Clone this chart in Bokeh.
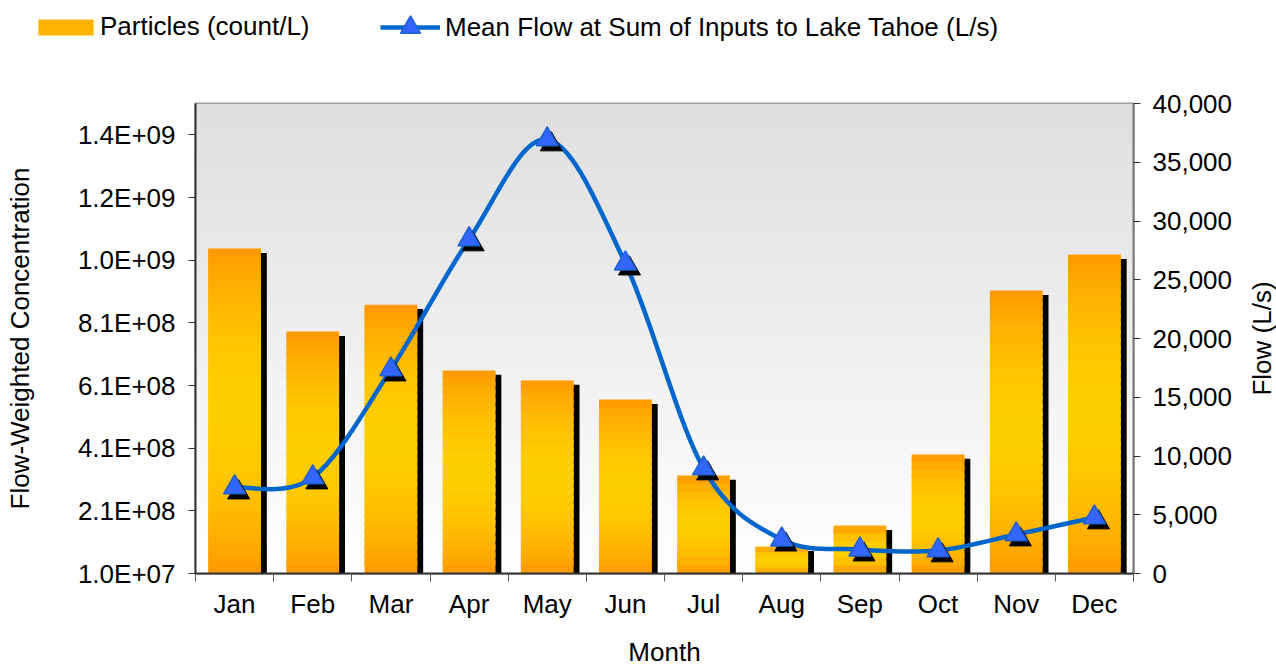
import math
from bokeh.plotting import figure
from bokeh.layouts import row
from bokeh.models import (Range1d, LinearAxis, FixedTicker, NumeralTickFormatter,
                          Legend, LegendItem)
from bokeh.core.properties import value
from bokeh.embed import file_html
from bokeh.resources import INLINE

# ---------------- data ----------------
months = ["Jan", "Feb", "Mar", "Apr", "May", "Jun",
          "Jul", "Aug", "Sep", "Oct", "Nov", "Dec"]
particles = [1.047e9, 7.82e8, 8.68e8, 6.58e8, 6.26e8, 5.65e8,
             3.23e8, 9.6e7, 1.63e8, 3.90e8, 9.13e8, 1.028e9]
flow = [7320, 8170, 17360, 28430, 36940, 26380,
        8940, 2890, 2040, 1960, 3320, 4770]
conc_ticks = [10000000, 210000000, 410000000, 610000000,
              810000000, 1010000000, 1210000000, 1410000000]
conc_tick_labels = ["1.0E+07", "2.1E+08", "4.1E+08", "6.1E+08",
                    "8.1E+08", "1.0E+09", "1.2E+09", "1.4E+09"]
flow_ticks = [0, 5000, 10000, 15000, 20000, 25000, 30000, 35000, 40000]
right_title = "Flow (L/s)"

FONT = "Liberation Sans"
FS = "26px"
x = list(range(1, len(months) + 1))
base = 1.0e7
ytop = 1.51e9

W = 1276
LEG_H = 68
MAIN_H = 601
LAB_W = 30

# ================= legend strip =================
lf = figure(width=W, height=LEG_H, output_backend="svg", toolbar_location=None,
            x_range=Range1d(0, 1), y_range=Range1d(0, 1),
            x_axis_location=None, y_axis_location=None,
            min_border=0, outline_line_color=None,
            background_fill_color="white", border_fill_color="white")
lf.grid.visible = False
# legend-only renderers: their single point lies outside the strip's ranges
r_bar_leg = lf.vbar(x=[5], top=[5], bottom=[4], width=0.5,
                    fill_color="#FFB400", line_color=None)
r_line_leg = lf.line(x=[5, 6], y=[5, 5], line_color="#0066CC", line_width=4.5)
r_tri_leg = lf.scatter(x=[5], y=[5], marker="triangle", size=22,
                       fill_color="#3366FF", line_color="#1F5FD0", line_width=1.5)
leg1 = Legend(items=[LegendItem(label="Particles (count/L)", renderers=[r_bar_leg])],
              location=(31, 26), orientation="horizontal",
              glyph_width=69, glyph_height=20, label_standoff=0,
              padding=0, margin=0, spacing=0,
              border_line_color=None, background_fill_alpha=0,
              label_text_font=FONT, label_text_font_size=FS,
              label_text_color="black")
leg2 = Legend(items=[LegendItem(label="Mean Flow at Sum of Inputs to Lake Tahoe (L/s)",
                                renderers=[r_line_leg, r_tri_leg])],
              location=(380, 16), orientation="horizontal",
              glyph_width=60, glyph_height=50, label_standoff=5,
              padding=0, margin=0, spacing=0,
              border_line_color=None, background_fill_alpha=0,
              label_text_font=FONT, label_text_font_size=FS,
              label_text_color="black")
lf.add_layout(leg1)
lf.add_layout(leg2)

# ================= main chart =================
p = figure(width=W - LAB_W, height=MAIN_H, output_backend="svg", toolbar_location=None,
           x_range=Range1d(0.5, 12.5), y_range=Range1d(base, ytop),
           min_border_left=195, min_border_right=143 - LAB_W,
           min_border_top=35, min_border_bottom=96,
           background_fill_color="white", border_fill_color="white",
           outline_line_color="#8c8c8c", outline_line_width=2)
p.extra_y_ranges = {"flow": Range1d(0, 40000)}
p.grid.visible = False

# background gradient (light grey top -> white bottom)
NB = 60
bl, bb, bt, br, bc = [], [], [], [], []
for k in range(NB):
    t = (k + 0.5) / NB
    g = int(round(255 - 33 * t))
    bl.append(0.5)
    br.append(12.5)
    bb.append(base + (ytop - base) * k / NB)
    bt.append(min(ytop, base + (ytop - base) * (k + 1.6) / NB))
    bc.append("#%02x%02x%02x" % (g, g, g))
p.quad(left=bl, right=br, bottom=bb, top=bt, fill_color=bc, line_color=None)

# bar shadows
BW = 0.675
p.vbar(x=[xi + 0.075 for xi in x], width=BW, bottom=base,
       top=[v - 1.4e7 for v in particles], fill_color="black", line_color=None)

# gradient bars (orange - yellow - orange)
sx, sb, st, sc = [], [], [], []
for xi, v in zip(x, particles):
    ns = max(5, int(40 * (v - base) / 1.0e9))
    for k in range(ns):
        t = (k + 0.5) / ns
        f = math.sin(math.pi * t) ** 0.8
        gch = int(round(150 + (206 - 150) * f))
        sx.append(xi)
        sb.append(base + (v - base) * k / ns)
        st.append(min(v, base + (v - base) * (k + 1.6) / ns))
        sc.append("#ff%02x00" % gch)
p.vbar(x=sx, width=BW, bottom=sb, top=st, fill_color=sc, line_color=None)

# smoothed flow curve (Bezier segments through the points)
n = len(x)
x0, y0, x1, y1, cx0, cy0, cx1, cy1 = ([] for _ in range(8))
for i in range(n - 1):
    a = i - 1 if i > 0 else i
    d = i + 2 if i + 2 < n else i + 1
    x0.append(x[i]); y0.append(flow[i])
    x1.append(x[i + 1]); y1.append(flow[i + 1])
    cx0.append(x[i] + (x[i + 1] - x[a]) / 6.0)
    cy0.append(flow[i] + (flow[i + 1] - flow[a]) / 6.0)
    cx1.append(x[i + 1] - (x[d] - x[i]) / 6.0)
    cy1.append(flow[i + 1] - (flow[d] - flow[i]) / 6.0)
p.bezier(x0=x0, y0=y0, x1=x1, y1=y1, cx0=cx0, cy0=cy0, cx1=cx1, cy1=cy1,
         line_color="#0066CC", line_width=4.5, y_range_name="flow")

# marker shadows then markers
p.scatter([xi + 0.052 for xi in x], [f - 430 for f in flow], marker="triangle",
          size=22, fill_color="black", line_color="black", y_range_name="flow")
p.scatter(x, flow, marker="triangle", size=22, fill_color="#3366FF",
          line_color="#1F5FD0", line_width=1.5, y_range_name="flow")

# axes
ya = p.yaxis[0]
ya.ticker = FixedTicker(ticks=conc_ticks)
ya.major_label_overrides = {t: l for t, l in zip(conc_ticks, conc_tick_labels)}
ya.axis_label = "Flow-Weighted Concentration"
ya.axis_label_standoff = 40
ya.major_label_standoff = 13
ya.major_tick_out = 7
ya.major_tick_in = 0
ya.minor_tick_line_color = None
ya.axis_line_color = "#333333"
ya.axis_line_width = 2
ya.major_tick_line_color = "#333333"

ra = LinearAxis(y_range_name="flow", ticker=FixedTicker(ticks=flow_ticks),
                formatter=NumeralTickFormatter(format="0,0"))
ra.major_label_standoff = 12
ra.major_tick_out = 7
ra.major_tick_in = 0
ra.minor_tick_line_color = None
ra.axis_line_color = "#777777"
ra.axis_line_width = 2
ra.major_tick_line_color = "#333333"
p.add_layout(ra, "right")

xa = p.xaxis[0]
xa.ticker = FixedTicker(ticks=x, minor_ticks=[0.5 + i for i in range(13)])
xa.major_label_overrides = {xi: m for xi, m in zip(x, months)}
xa.axis_label = "Month"
xa.axis_label_standoff = 15
xa.major_label_standoff = 7
xa.major_tick_out = 8
xa.major_tick_in = 0
xa.major_tick_line_color = None
xa.minor_tick_out = 8
xa.minor_tick_in = 0
xa.minor_tick_line_color = "#555555"
xa.axis_line_color = "#333333"
xa.axis_line_width = 2

for ax in (ya, ra, xa):
    ax.major_label_text_font = FONT
    ax.major_label_text_font_size = FS
    ax.major_label_text_color = "black"
    ax.axis_label_text_font = FONT
    ax.axis_label_text_font_size = FS
    ax.axis_label_text_font_style = "normal"
    ax.axis_label_text_color = "black"

# ============ right-hand axis title (reads bottom to top) ============
lab = figure(width=LAB_W, height=MAIN_H, output_backend="svg", toolbar_location=None,
             x_range=Range1d(0, 1), y_range=Range1d(0, 1),
             x_axis_location=None, y_axis_location=None,
             min_border_left=0, min_border_right=0,
             min_border_top=35, min_border_bottom=96,
             outline_line_color=None,
             background_fill_color="white", border_fill_color="white")
lab.grid.visible = False
lab.text(x=[0.5], y=[0.5], text=[right_title], angle=math.pi / 2,
         text_align="center", text_baseline="middle",
         text_font=value(FONT), text_font_size=FS, text_color="black")

open("out.html", "w").write(file_html([lf, row(p, lab)], INLINE))
